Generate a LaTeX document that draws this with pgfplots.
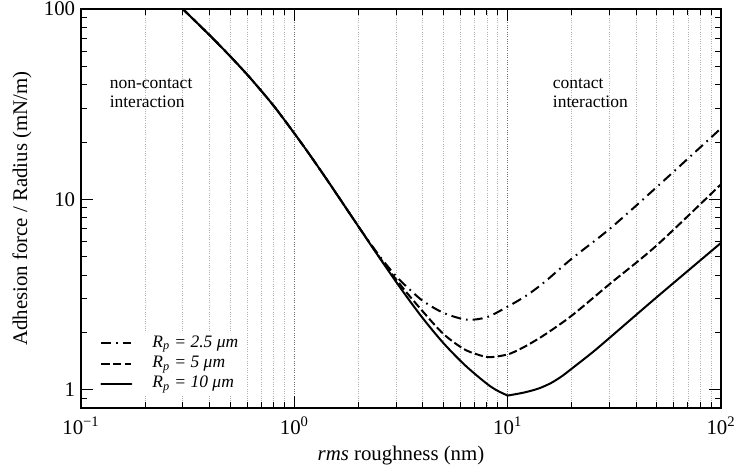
\documentclass[border=0pt]{standalone}
\usepackage{fontspec}
\setmainfont{Liberation Serif}
\usepackage{pgfplots}
\pgfplotsset{compat=1.18}
\begin{document}
\begin{tikzpicture}
\useasboundingbox (-48.6pt,-39.6pt) rectangle (392.4pt,244.8pt);
\begin{axis}[
 scale only axis, width=384pt, height=239.4pt,
 xmode=log, ymode=log,
 xmin=0.1, xmax=100, ymin=0.8, ymax=100,
 axis line style={line width=0.8pt},
 xtick={0.1,1,10,100},
 xticklabels={10\textsuperscript{−1},10\textsuperscript{0},10\textsuperscript{1},10\textsuperscript{2}},
 minor xtick={0.2,0.3,0.4,0.5,0.6,0.7,0.8,0.9,2,3,4,5,6,7,8,9,20,30,40,50,60,70,80,90},
 ytick={1,10,100}, yticklabels={1,10,100},
 minor ytick={0.8,0.9,2,3,4,5,6,7,8,9,20,30,40,50,60,70,80,90},
 major tick length=7.2pt, minor tick length=3.6pt,
 tick style={line width=0.6pt, black},
 xmajorgrids, xminorgrids,
 major grid style={densely dotted, black!55, line width=0.5pt},
 minor grid style={densely dotted, black!30, line width=0.5pt},
 tick label style={font=\fontsize{12.5}{15}\selectfont},
 xticklabel style={yshift=-2pt},
 label style={font=\fontsize{12.5}{15}\selectfont},
 xlabel={\textit{rms} roughness (nm)},
 ylabel={Adhesion force / Radius (mN/m)},
 xlabel style={at={(axis description cs:0.5,0)}, anchor=center, yshift=-28.8pt},
 ylabel style={at={(axis description cs:-0.092,0.5)}, anchor=center},
 legend style={at={(0.022,0.03)}, anchor=south west, draw=none, fill=white,
   font=\fontsize{10.5}{12}\selectfont, inner xsep=3pt, inner ysep=1pt,
   nodes={inner ysep=0.5pt, text height=8pt, text depth=3.2pt},
   /tikz/every odd column/.append style={column sep=10pt}},
 legend cell align=left,
 legend image code/.code={\draw[#1] (0pt,0pt) -- (18pt,0pt);},
]
\addplot[line width=1.2pt, smooth, tension=0.5, dash pattern=on 6pt off 3pt on 1pt off 3pt] table {
x y
0.3 100
0.4 73
0.5 56.5
0.62 43.5
0.8 31
1.0 22.2
1.2 16.7
1.47 12.0
2.0 7.18
2.5 5.06
3.0 3.94
3.5 3.33
4.03 2.91
5.0 2.53
6.43 2.33
7.97 2.40
9.89 2.71
12.3 3.13
15 3.70
20 4.88
30.2 7.02
50 11.6
100 23.6
};
\addlegendentry{\textit{R\textsubscript{p} = 2.5 μm}}
\addplot[line width=1.2pt, smooth, tension=0.5, dash pattern=on 5pt off 2pt] table {
x y
0.3 100
0.4 73
0.5 56.5
0.62 43.5
0.8 31
1.0 22.2
1.2 16.7
1.47 12.0
2.0 7.18
2.5 4.98
3.16 3.52
4.03 2.55
5.0 1.96
6.19 1.64
7.2 1.53
8.26 1.48
10 1.53
11.4 1.63
12.7 1.74
15 1.95
20 2.45
30.2 3.60
50 5.73
100 12.0
};
\addlegendentry{\textit{R\textsubscript{p} = 5 μm}}
\addplot[line width=1.2pt, smooth, tension=0.5, line cap=round] table {
x y
0.3 100
0.4 73
0.5 56.5
0.62 43.5
0.8 31
1.0 22.2
1.2 16.7
1.47 12.0
2.0 7.18
2.51 4.92
3.16 3.39
3.98 2.39
5.01 1.75
6.31 1.343
7.94 1.079
8.9 0.99
10 0.93
};
\addlegendentry{\textit{R\textsubscript{p} = 10 μm}}
\addplot[forget plot, line width=1.2pt, smooth, tension=0.5, line cap=round] table {
x y
10 0.93
12 0.966
14 1.014
16 1.084
18 1.178
20 1.29
25 1.57
30.2 1.88
50 3.06
100 5.9
};
\node[anchor=west, align=left, font=\fontsize{10.5}{11.6}\selectfont] at (axis cs:0.128,36) {non-contact\\interaction};
\node[anchor=west, align=left, font=\fontsize{10.5}{11.6}\selectfont] at (axis cs:15.3,36) {contact\\interaction};
\end{axis}
\end{tikzpicture}
\end{document}
